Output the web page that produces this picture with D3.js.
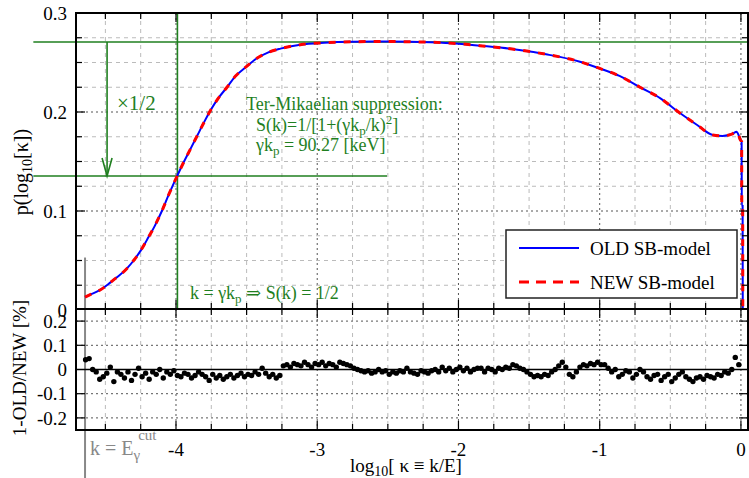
<!DOCTYPE html>
<html>
<head>
<meta charset="utf-8">
<script src="https://cdn.jsdelivr.net/npm/d3@7"></script>
<style>
  html, body { margin: 0; padding: 0; background: #fff; }
  svg text { font-family: "Liberation Serif", "DejaVu Serif", serif; }
</style>
</head>
<body>
<svg id="chart"></svg>
<script>
// spectrum p(log10 k): [log10 kappa, p]
const spectrum = [
  [-4.644, 0.013], [-4.60, 0.016], [-4.54, 0.020], [-4.48, 0.026], [-4.446, 0.030],
  [-4.40, 0.035], [-4.347, 0.042], [-4.30, 0.050], [-4.25, 0.060], [-4.205, 0.071],
  [-4.15, 0.085], [-4.10, 0.100], [-4.05, 0.117], [-3.993, 0.135], [-3.95, 0.148],
  [-3.90, 0.162], [-3.85, 0.176], [-3.80, 0.190], [-3.75, 0.203], [-3.70, 0.214],
  [-3.639, 0.225], [-3.58, 0.236], [-3.50, 0.246], [-3.43, 0.254], [-3.35, 0.260],
  [-3.26, 0.264], [-3.12, 0.268], [-2.95, 0.270], [-2.75, 0.271], [-2.55, 0.2712],
  [-2.35, 0.271], [-2.20, 0.2705], [-2.00, 0.269], [-1.85, 0.267], [-1.62, 0.2636],
  [-1.38, 0.2583], [-1.14, 0.2508], [-1.00, 0.244], [-0.86, 0.2364], [-0.715, 0.225],
  [-0.57, 0.2138], [-0.43, 0.1987], [-0.31, 0.1869], [-0.20, 0.1768], [-0.13, 0.1758],
  [-0.06, 0.178], [-0.03, 0.180], [-0.015, 0.176], [-0.005, 0.172], [0.005, 0.170],
  [0.006, 0.105], [0.012, 0.105], [0.013, 0.0]
];

// residual 1-OLD/NEW [%], one value per bin of 0.025 in log10 kappa
const resStart = -4.64;
const resBin = 0.025;
const residuals = [
  0.04, 0.045, 0.0, -0.01, -0.04, -0.03, -0.015, 0.01, -0.05, -0.01,
  -0.02, -0.035, -0.01, -0.045, -0.02, 0.005, -0.03, -0.015, -0.04, -0.01,
  -0.02, 0.0, -0.035, -0.01, -0.02, -0.005, -0.025, -0.03, -0.015, -0.02,
  -0.035, -0.025, -0.01, -0.02, -0.03, -0.045, -0.02, -0.035, -0.025, -0.04,
  -0.03, -0.02, -0.035, -0.025, -0.015, -0.03, -0.02, -0.025, -0.01, -0.02,
  0.005, -0.015, -0.03, -0.02, -0.035, -0.025,
  0.015, 0.02, 0.01, 0.025, 0.02, 0.015, 0.03, 0.02, 0.01, 0.025,
  0.02, 0.03, 0.015, 0.025, 0.02, 0.01, 0.03, 0.025, 0.02, 0.015, 0.005,
  0.0, -0.005, -0.01, -0.005, -0.015, -0.01, 0.0, -0.01, -0.005, -0.02,
  -0.01, -0.015, -0.005, -0.01, 0.005, -0.01, -0.015, -0.02, -0.005, -0.01, -0.015,
  -0.005, 0.0, -0.01, 0.01, -0.005, 0.005, -0.01, 0.0, 0.01, -0.005, 0.005, -0.01, 0.0, 0.005,
  0.005, -0.01, 0.005, 0.0, -0.01, 0.005, 0.0, 0.01, 0.005, 0.02,
  0.015, 0.005, 0.0, -0.01, -0.02, -0.03, -0.025, -0.03, -0.02, -0.025,
  -0.01, 0.0, 0.015, 0.03, 0.01, -0.02, -0.03, -0.01, 0.01, 0.02,
  0.015, 0.025, 0.02, 0.03,
  0.02, 0.02, 0.005, -0.01, 0.0, -0.03, -0.02, -0.005, -0.01, -0.035,
  -0.02, 0.0, -0.01, -0.03, -0.04, -0.025, -0.02, -0.045, -0.03, -0.02,
  -0.05, -0.035, -0.02, -0.01, -0.03, -0.04, -0.05, -0.035, -0.03, -0.04,
  -0.025, -0.03, -0.035, -0.02, -0.025, -0.01, -0.015, 0.0, 0.05, 0.02
];

// reference marks
const peakP = 0.2707;
const halfP = 0.1354;
const kpLog = -3.99;
const arrowLog = -4.488;
const cutLog = -4.644;

const xMajor = [-4, -3, -2, -1, 0];
const xMinor = [-4.5, -4.25, -3.75, -3.5, -3.25, -2.75, -2.5, -2.25, -1.75, -1.5, -1.25, -0.75, -0.5, -0.25];
const topMajor = [0.1, 0.2];
const topMinor = [0.025, 0.05, 0.075, 0.125, 0.15, 0.175, 0.225, 0.25, 0.275];
const topLabels = [0, 0.1, 0.2, 0.3];
const botMajor = [-0.2, -0.1, 0.1, 0.2];
const botLabels = [-0.2, -0.1, 0, 0.1, 0.2];

const W = 749, H = 478;
const green = "#1f7f1f";

const x = d3.scaleLinear().domain([-4.708, 0.05]).range([76, 748]);
const yTop = d3.scaleLinear().domain([0, 0.3]).range([310, 13]);
const yBot = d3.scaleLinear().domain([-0.25, 0.25]).range([430, 309]);

const svg = d3.select("#chart").attr("width", W).attr("height", H);

const L = 76, R = 748, T = 13, M = 309, B = 430;

// grid
const grid = svg.append("g");
const vgrid = (vals, y0, y1, stroke, dash) => {
  grid.selectAll(null).data(vals).enter().append("line")
    .attr("x1", (d) => x(d)).attr("x2", (d) => x(d))
    .attr("y1", y0).attr("y2", y1)
    .attr("stroke", stroke).attr("stroke-width", 1).attr("stroke-dasharray", dash);
};
const hgrid = (vals, scale, stroke, dash) => {
  grid.selectAll(null).data(vals).enter().append("line")
    .attr("x1", L).attr("x2", R)
    .attr("y1", (d) => scale(d)).attr("y2", (d) => scale(d))
    .attr("stroke", stroke).attr("stroke-width", 1).attr("stroke-dasharray", dash);
};
vgrid(xMinor, T, M, "#bbb", "4,4");
vgrid(xMinor, M, B, "#bbb", "4,4");
vgrid(xMajor, T, M, "#555", "2,3");
vgrid(xMajor, M, B, "#555", "2,3");
hgrid(topMinor, yTop, "#bbb", "4,4");
hgrid(topMajor, yTop, "#555", "2,3");
hgrid(botMajor, yBot, "#555", "2,3");

// green annotation lines
const ann = svg.append("g").attr("stroke", green).attr("stroke-width", 1.6).attr("fill", "none");
ann.append("line").attr("x1", x(-5.01)).attr("x2", R).attr("y1", yTop(peakP)).attr("y2", yTop(peakP));
ann.append("line").attr("x1", x(-5.01)).attr("x2", x(-2.506)).attr("y1", yTop(halfP)).attr("y2", yTop(halfP));
ann.append("line").attr("x1", x(kpLog)).attr("x2", x(kpLog)).attr("y1", yTop(0.3)).attr("y2", yTop(0));
ann.append("line").attr("x1", x(arrowLog)).attr("x2", x(arrowLog)).attr("y1", yTop(peakP)).attr("y2", yTop(halfP));
ann.append("path")
  .attr("d", `M${x(arrowLog) - 5},${yTop(halfP) - 18} L${x(arrowLog)},${yTop(halfP)} L${x(arrowLog) + 5},${yTop(halfP) - 18}`);

// cut line
svg.append("line")
  .attr("x1", x(cutLog)).attr("x2", x(cutLog))
  .attr("y1", yTop(0.053)).attr("y2", H)
  .attr("stroke", "#888").attr("stroke-width", 2);

// spectrum curves
const line = d3.line().x((d) => x(d[0])).y((d) => yTop(d[1])).curve(d3.curveMonotoneX);
svg.append("path").datum(spectrum).attr("d", line)
  .attr("fill", "none").attr("stroke", "#0000ff").attr("stroke-width", 2);
svg.append("path").datum(spectrum).attr("d", line)
  .attr("fill", "none").attr("stroke", "#ff0000").attr("stroke-width", 3).attr("stroke-dasharray", "7,8");

// residual zero line and points
svg.append("line").attr("x1", L).attr("x2", R).attr("y1", yBot(0)).attr("y2", yBot(0))
  .attr("stroke", "#000").attr("stroke-width", 1.5);
svg.append("g").selectAll("circle").data(residuals).enter().append("circle")
  .attr("cx", (d, i) => x(resStart + i * resBin))
  .attr("cy", (d) => yBot(d))
  .attr("r", 2.7)
  .attr("fill", "#000");

// frames
svg.append("rect").attr("x", L).attr("y", T).attr("width", R - L).attr("height", M - T)
  .attr("fill", "none").attr("stroke", "#000").attr("stroke-width", 2);
svg.append("rect").attr("x", L).attr("y", M).attr("width", R - L).attr("height", B - M)
  .attr("fill", "none").attr("stroke", "#000").attr("stroke-width", 2);

// ticks
const ticks = svg.append("g").attr("stroke", "#000").attr("stroke-width", 1.2);
const xt = (vals, len) => {
  vals.forEach((v) => {
    [[T, 1], [M, -1], [M, 1], [B, -1]].forEach(([y0, s]) => {
      ticks.append("line").attr("x1", x(v)).attr("x2", x(v)).attr("y1", y0).attr("y2", y0 + s * len);
    });
  });
};
xt(xMajor, 9);
xt(xMinor, 6);
const yt = (vals, scale, len) => {
  vals.forEach((v) => {
    ticks.append("line").attr("x1", L).attr("x2", L + len).attr("y1", scale(v)).attr("y2", scale(v));
    ticks.append("line").attr("x1", R).attr("x2", R - len).attr("y1", scale(v)).attr("y2", scale(v));
  });
};
yt(topMajor, yTop, 9);
yt(topMinor, yTop, 6);
yt(botMajor, yBot, 9);

// tick labels
const fs = 19;
svg.append("g").selectAll("text").data(topLabels).enter().append("text")
  .attr("x", 67).attr("y", (d) => yTop(d)).attr("dy", "0.35em")
  .attr("text-anchor", "end").attr("font-size", fs)
  .text((d) => d === 0 ? "0" : d.toFixed(1));
svg.append("g").selectAll("text").data(botLabels).enter().append("text")
  .attr("x", 67).attr("y", (d) => yBot(d)).attr("dy", "0.35em")
  .attr("text-anchor", "end").attr("font-size", fs)
  .text((d) => d === 0 ? "0" : d.toFixed(1));
svg.append("g").selectAll("text").data(xMajor).enter().append("text")
  .attr("x", (d) => x(d)).attr("y", 456)
  .attr("text-anchor", "middle").attr("font-size", fs)
  .text((d) => d === 0 ? "0" : String(d));

// axis titles
const xt1 = svg.append("text").attr("x", 406).attr("y", 472).attr("text-anchor", "middle").attr("font-size", fs);
xt1.append("tspan").text("log");
xt1.append("tspan").attr("font-size", 14).attr("dy", 4).text("10");
xt1.append("tspan").attr("dy", -4).text("[ κ ≡ k/E]");

const yl1 = svg.append("text").attr("transform", "translate(28,172) rotate(-90)")
  .attr("text-anchor", "middle").attr("font-size", 20);
yl1.append("tspan").text("p(log");
yl1.append("tspan").attr("font-size", 14).attr("dy", 4).text("10");
yl1.append("tspan").attr("dy", -4).text("[κ])");

svg.append("text").attr("transform", "translate(26,368) rotate(-90)")
  .attr("text-anchor", "middle").attr("font-size", fs).text("1-OLD/NEW [%]");

// cut label
const cut = svg.append("text").attr("x", 90).attr("y", 455).attr("font-size", 20).attr("fill", "#888");
cut.append("tspan").text("k = E");
cut.append("tspan").attr("font-size", 15).attr("dy", 5).text("γ");
cut.append("tspan").attr("font-size", 15).attr("dy", -20).attr("dx", -2).text("cut");

// green annotation texts
const gtext = (xx, yy) => svg.append("text").attr("x", xx).attr("y", yy).attr("font-size", 18).attr("fill", green);
gtext(117, 110).attr("font-size", 21).text("×1/2");
gtext(246, 110).text("Ter-Mikaelian suppression:");
const s2 = gtext(256, 131);
s2.append("tspan").text("S(k)=1/[1+(γk");
s2.append("tspan").attr("font-size", 13).attr("dy", 4).text("p");
s2.append("tspan").attr("dy", -4).text("/k)");
s2.append("tspan").attr("font-size", 13).attr("dy", -7).text("2");
s2.append("tspan").attr("dy", 7).text("]");
const s3 = gtext(256, 151);
s3.append("tspan").text("γk");
s3.append("tspan").attr("font-size", 13).attr("dy", 4).text("p");
s3.append("tspan").attr("dy", -4).text(" = 90.27 [keV]");
const s4 = gtext(190, 299);
s4.append("tspan").text("k = γk");
s4.append("tspan").attr("font-size", 13).attr("dy", 4).text("p");
s4.append("tspan").attr("dy", -4).text(" ⇒ S(k) = 1/2");

// legend
const lg = svg.append("g");
lg.append("rect").attr("x", 506).attr("y", 230).attr("width", 231).attr("height", 68)
  .attr("fill", "#fff").attr("stroke", "#222").attr("stroke-width", 1.5);
lg.append("line").attr("x1", 519).attr("x2", 579).attr("y1", 248).attr("y2", 248)
  .attr("stroke", "#0000ff").attr("stroke-width", 2);
lg.append("line").attr("x1", 519).attr("x2", 579).attr("y1", 282).attr("y2", 282)
  .attr("stroke", "#ff0000").attr("stroke-width", 3).attr("stroke-dasharray", "10,7");
lg.append("text").attr("x", 590).attr("y", 248).attr("dy", "0.35em").attr("font-size", 19).text("OLD SB-model");
lg.append("text").attr("x", 590).attr("y", 282).attr("dy", "0.35em").attr("font-size", 19).text("NEW SB-model");
</script>
</body>
</html>
